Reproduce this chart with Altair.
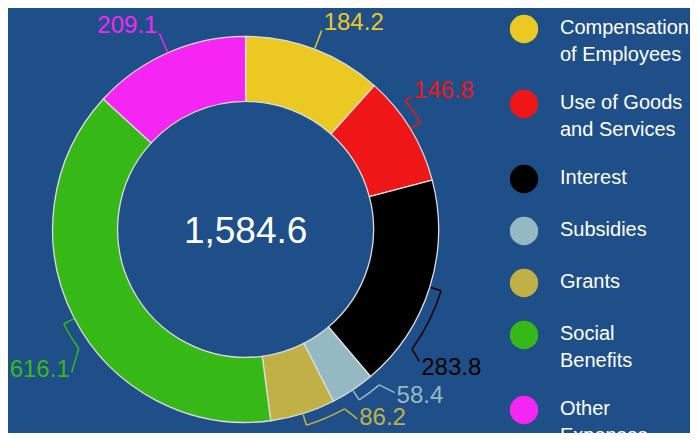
import math
import numpy as np
import pandas as pd
import altair as alt

# ---------------- data ----------------
categories = ["Compensation of Employees", "Use of Goods and Services", "Interest",
              "Subsidies", "Grants", "Social Benefits", "Other Expenses"]
values = [184.2, 146.8, 283.8, 58.4, 86.2, 616.1, 209.1]
legend_labels = ["Compensation\nof Employees", "Use of Goods\nand Services", "Interest",
                 "Subsidies", "Grants", "Social\nBenefits", "Other\nExpenses"]

# ---------------- style / layout ----------------
colors = ["#ecc922", "#ee1616", "#000000", "#95b9c2", "#c1b046", "#36b916", "#f526f4"]
BG = "#1f4f88"
FONT = "Liberation Sans"
CX, CY = 237.6, 221.4          # donut centre (chart coords)
R_OUT, R_IN = 193, 128
R_BRACKET = 205
bracket_theta = [None, 51.1, 125.7, 139.3, 151.1, 234.5, None]   # where the bracket arc ends (deg)
label_theta = [None, 51.3, 127.2, 137.6, 149.5, 230.6, None]     # connector end angle (None = mid)
label_r = [213, 213, 218, 221, 220, 225, 214]
label_dy = [-9, -7, 5, 2, -3, -4, -9]
LABEL_SIZE = 24
LEG_CIRCLE_X, LEG_TEXT_X, LEG_TOP = 516, 552, 21
LEG_SIZE = 20

total = float(sum(values))
cum = np.concatenate([[0.0], np.cumsum(values)])
mids = (cum[:-1] + cum[1:]) / 2 / total * 360.0


def pt(r, deg):
    a = math.radians(deg)
    return CX + r * math.sin(a), CY - r * math.cos(a)


slices = pd.DataFrame({"category": categories, "value": values, "idx": range(len(values))})

rules, arcs, labels = [], [], []
for i, cat in enumerate(categories):
    m = float(mids[i])
    lt = label_theta[i] if label_theta[i] is not None else m
    dx, dy = pt(label_r[i], lt)
    if bracket_theta[i] is None:
        ax, ay = pt(R_OUT + 1, m)
        rules.append(dict(category=cat, x=ax, y=ay, x2=dx, y2=dy))
    else:
        bt = bracket_theta[i]
        ax, ay = pt(R_OUT + 1, m)
        bx, by = pt(R_BRACKET, m)
        cx_, cy_ = pt(R_BRACKET, bt)
        rules.append(dict(category=cat, x=ax, y=ay, x2=bx, y2=by))
        rules.append(dict(category=cat, x=cx_, y=cy_, x2=dx, y2=dy))
        arcs.append(dict(category=cat, t1=min(m, bt), t2=max(m, bt)))
    right = lt < 180
    labels.append(dict(category=cat, value=values[i], side="right" if right else "left",
                       x=dx + (2 if right else -2),
                       y=dy + label_dy[i] + 0.716 * LABEL_SIZE / 2))

rules = pd.DataFrame(rules)
arcs = pd.DataFrame(arcs)
labels = pd.DataFrame(labels)

# legend layout
leg_rows, y = [], LEG_TOP
for cat, lab in zip(categories, legend_labels):
    n = lab.count("\n") + 1
    leg_rows.append(dict(category=cat, label=lab, cy=y, ty=y - 2 + 0.716 * LEG_SIZE / 2))
    y += 29 + 23 * n
legend = pd.DataFrame(leg_rows)

color_scale = alt.Scale(domain=categories, range=colors)
col = alt.Color("category:N", scale=color_scale, legend=None)

donut = alt.Chart(slices).mark_arc(
    radius=R_OUT, radius2=R_IN, x=CX, y=CY, stroke="#dcdcdc", strokeWidth=1.3
).encode(
    theta=alt.Theta("value:Q", stack=True),
    order=alt.Order("idx:Q"),
    color=col,
)

bracket = alt.Chart(arcs).mark_arc(
    radius=R_BRACKET, radius2=R_BRACKET, x=CX, y=CY, filled=False, strokeWidth=1.5
).encode(
    theta=alt.Theta("t1:Q", scale=alt.Scale(domain=[0, 360], range=[0, 2 * math.pi])),
    theta2="t2:Q",
    color=col,
)

conn = alt.Chart(rules).mark_rule(strokeWidth=1.5).encode(
    x=alt.X("x:Q", scale=None, axis=None),
    y=alt.Y("y:Q", scale=None, axis=None),
    x2="x2:Q", y2="y2:Q",
    color=col,
)

def label_layer(side, align):
    return alt.Chart(labels[labels.side == side]).mark_text(
        align=align, baseline="alphabetic", font=FONT, fontSize=LABEL_SIZE
    ).encode(
        x=alt.X("x:Q", scale=None, axis=None),
        y=alt.Y("y:Q", scale=None, axis=None),
        text=alt.Text("value:Q", format=".1f"),
        color=col,
    )

center = alt.Chart(pd.DataFrame({"total": [total]})).mark_text(
    x=CX, y=CY + 13.5, align="center", baseline="alphabetic",
    font=FONT, fontSize=37, color="white"
).encode(text=alt.Text("total:Q", format=",.1f"))

leg_dots = alt.Chart(legend).mark_circle(size=804, opacity=1).encode(
    x=alt.value(LEG_CIRCLE_X),
    y=alt.Y("cy:Q", scale=None, axis=None),
    color=col,
)
leg_text = alt.Chart(legend).mark_text(
    align="left", baseline="alphabetic", lineBreak="\n", font=FONT,
    fontSize=LEG_SIZE, lineHeight=27, color="white"
).encode(
    x=alt.value(LEG_TEXT_X),
    y=alt.Y("ty:Q", scale=None, axis=None),
    text="label:N",
)

chart = alt.layer(
    donut, bracket, conn, label_layer("right", "left"), label_layer("left", "right"),
    center, leg_dots, leg_text
).resolve_scale(theta="independent").properties(
    width=682, height=425, background=BG, padding=0,
    autosize=alt.AutoSizeParams(type="none")
).configure_view(stroke=None)

chart.save("out.html", embed_options={"renderer": "svg", "actions": False})
